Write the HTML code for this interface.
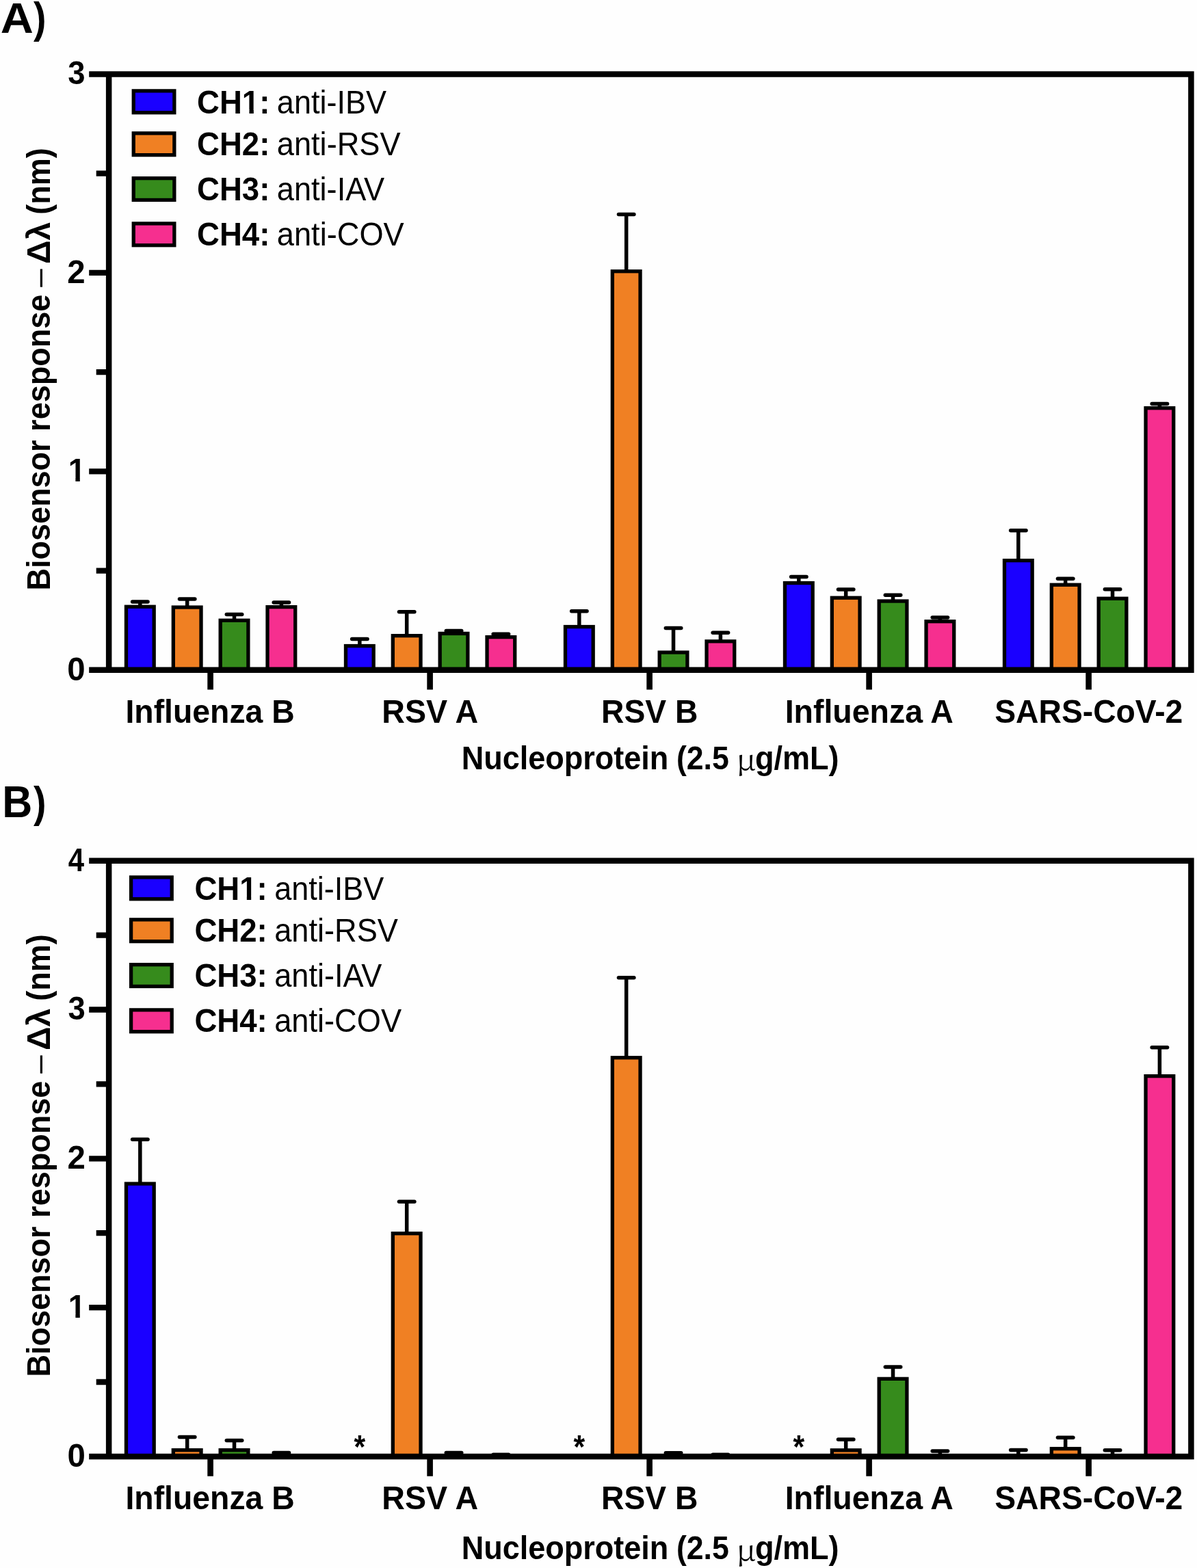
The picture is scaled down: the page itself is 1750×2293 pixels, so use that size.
<!DOCTYPE html>
<html><head><meta charset="utf-8"><title>Biosensor response</title>
<style>html,body{margin:0;padding:0;background:#fefefe;overflow:hidden}svg{display:block}</style></head>
<body><svg width="1750" height="2293" viewBox="0 0 1750 2293" font-family="'Liberation Sans', Arial, sans-serif" font-size="48.7" fill="#000">
<defs><clipPath id="c1_0"><path clip-rule="evenodd" d="M0 0H1750V2293H0ZM99.22 698.75H110.4V706.12H99.22ZM116.8 698.75H125.78V706.12H116.8Z"/></clipPath><clipPath id="c1_1"><path clip-rule="evenodd" d="M0 0H1750V2293H0ZM353.37 160.33H364.47V167.7H353.37ZM370.83 160.33H379.74V167.7H370.83Z"/></clipPath><clipPath id="c1_2"><path clip-rule="evenodd" d="M0 0H1750V2293H0ZM99.22 1921.53H110.4V1928.9H99.22ZM116.8 1921.53H125.78V1928.9H116.8Z"/></clipPath><clipPath id="c1_3"><path clip-rule="evenodd" d="M0 0H1750V2293H0ZM349.72 1310.33H360.82V1317.7H349.72ZM367.18 1310.33H376.09V1317.7H367.18Z"/></clipPath></defs>
<rect width="1750" height="2293" fill="#fefefe"/>
<rect x="184.48" y="887.25" width="40.7" height="92.5" fill="#1a00ff" stroke="#000" stroke-width="5.3"/>
<line x1="204.83" y1="887.25" x2="204.83" y2="880" stroke="#000" stroke-width="5.5"/>
<line x1="193.63" y1="880" x2="216.03" y2="880" stroke="#000" stroke-width="5.5" stroke-linecap="round"/>
<rect x="253.33" y="888.05" width="40.7" height="91.7" fill="#f08023" stroke="#000" stroke-width="5.3"/>
<line x1="273.68" y1="888.05" x2="273.68" y2="876" stroke="#000" stroke-width="5.5"/>
<line x1="262.48" y1="876" x2="284.88" y2="876" stroke="#000" stroke-width="5.5" stroke-linecap="round"/>
<rect x="322.18" y="907.25" width="40.7" height="72.5" fill="#368b1c" stroke="#000" stroke-width="5.3"/>
<line x1="342.53" y1="907.25" x2="342.53" y2="898.4" stroke="#000" stroke-width="5.5"/>
<line x1="331.33" y1="898.4" x2="353.73" y2="898.4" stroke="#000" stroke-width="5.5" stroke-linecap="round"/>
<rect x="391.02" y="887.65" width="40.7" height="92.1" fill="#f62f8f" stroke="#000" stroke-width="5.3"/>
<line x1="411.38" y1="887.65" x2="411.38" y2="881" stroke="#000" stroke-width="5.5"/>
<line x1="400.18" y1="881" x2="422.57" y2="881" stroke="#000" stroke-width="5.5" stroke-linecap="round"/>
<rect x="505.48" y="944.55" width="40.7" height="35.2" fill="#1a00ff" stroke="#000" stroke-width="5.3"/>
<line x1="525.83" y1="944.55" x2="525.83" y2="934.5" stroke="#000" stroke-width="5.5"/>
<line x1="514.62" y1="934.5" x2="537.03" y2="934.5" stroke="#000" stroke-width="5.5" stroke-linecap="round"/>
<rect x="574.33" y="929.65" width="40.7" height="50.1" fill="#f08023" stroke="#000" stroke-width="5.3"/>
<line x1="594.68" y1="929.65" x2="594.68" y2="894.7" stroke="#000" stroke-width="5.5"/>
<line x1="583.48" y1="894.7" x2="605.88" y2="894.7" stroke="#000" stroke-width="5.5" stroke-linecap="round"/>
<rect x="643.17" y="926.45" width="40.7" height="53.3" fill="#368b1c" stroke="#000" stroke-width="5.3"/>
<line x1="663.52" y1="926.45" x2="663.52" y2="922.6" stroke="#000" stroke-width="5.5"/>
<line x1="652.32" y1="922.6" x2="674.73" y2="922.6" stroke="#000" stroke-width="5.5" stroke-linecap="round"/>
<rect x="712.02" y="931.65" width="40.7" height="48.1" fill="#f62f8f" stroke="#000" stroke-width="5.3"/>
<line x1="732.38" y1="931.65" x2="732.38" y2="927.3" stroke="#000" stroke-width="5.5"/>
<line x1="721.17" y1="927.3" x2="743.58" y2="927.3" stroke="#000" stroke-width="5.5" stroke-linecap="round"/>
<rect x="826.48" y="916.55" width="40.7" height="63.2" fill="#1a00ff" stroke="#000" stroke-width="5.3"/>
<line x1="846.83" y1="916.55" x2="846.83" y2="893.8" stroke="#000" stroke-width="5.5"/>
<line x1="835.62" y1="893.8" x2="858.03" y2="893.8" stroke="#000" stroke-width="5.5" stroke-linecap="round"/>
<rect x="895.33" y="396.75" width="40.7" height="583" fill="#f08023" stroke="#000" stroke-width="5.3"/>
<line x1="915.68" y1="396.75" x2="915.68" y2="313.5" stroke="#000" stroke-width="5.5"/>
<line x1="904.48" y1="313.5" x2="926.88" y2="313.5" stroke="#000" stroke-width="5.5" stroke-linecap="round"/>
<rect x="964.17" y="954.05" width="40.7" height="25.7" fill="#368b1c" stroke="#000" stroke-width="5.3"/>
<line x1="984.52" y1="954.05" x2="984.52" y2="918.6" stroke="#000" stroke-width="5.5"/>
<line x1="973.32" y1="918.6" x2="995.73" y2="918.6" stroke="#000" stroke-width="5.5" stroke-linecap="round"/>
<rect x="1033.03" y="937.85" width="40.7" height="41.9" fill="#f62f8f" stroke="#000" stroke-width="5.3"/>
<line x1="1053.38" y1="937.85" x2="1053.38" y2="925.3" stroke="#000" stroke-width="5.5"/>
<line x1="1042.17" y1="925.3" x2="1064.58" y2="925.3" stroke="#000" stroke-width="5.5" stroke-linecap="round"/>
<rect x="1147.47" y="852.55" width="40.7" height="127.2" fill="#1a00ff" stroke="#000" stroke-width="5.3"/>
<line x1="1167.82" y1="852.55" x2="1167.82" y2="843.4" stroke="#000" stroke-width="5.5"/>
<line x1="1156.62" y1="843.4" x2="1179.02" y2="843.4" stroke="#000" stroke-width="5.5" stroke-linecap="round"/>
<rect x="1216.33" y="874.25" width="40.7" height="105.5" fill="#f08023" stroke="#000" stroke-width="5.3"/>
<line x1="1236.67" y1="874.25" x2="1236.67" y2="861.9" stroke="#000" stroke-width="5.5"/>
<line x1="1225.47" y1="861.9" x2="1247.88" y2="861.9" stroke="#000" stroke-width="5.5" stroke-linecap="round"/>
<rect x="1285.17" y="879.05" width="40.7" height="100.7" fill="#368b1c" stroke="#000" stroke-width="5.3"/>
<line x1="1305.52" y1="879.05" x2="1305.52" y2="870.3" stroke="#000" stroke-width="5.5"/>
<line x1="1294.32" y1="870.3" x2="1316.72" y2="870.3" stroke="#000" stroke-width="5.5" stroke-linecap="round"/>
<rect x="1354.03" y="908.75" width="40.7" height="71" fill="#f62f8f" stroke="#000" stroke-width="5.3"/>
<line x1="1374.38" y1="908.75" x2="1374.38" y2="903" stroke="#000" stroke-width="5.5"/>
<line x1="1363.17" y1="903" x2="1385.58" y2="903" stroke="#000" stroke-width="5.5" stroke-linecap="round"/>
<rect x="1468.47" y="819.65" width="40.7" height="160.1" fill="#1a00ff" stroke="#000" stroke-width="5.3"/>
<line x1="1488.82" y1="819.65" x2="1488.82" y2="775.7" stroke="#000" stroke-width="5.5"/>
<line x1="1477.62" y1="775.7" x2="1500.02" y2="775.7" stroke="#000" stroke-width="5.5" stroke-linecap="round"/>
<rect x="1537.33" y="855.25" width="40.7" height="124.5" fill="#f08023" stroke="#000" stroke-width="5.3"/>
<line x1="1557.67" y1="855.25" x2="1557.67" y2="846.2" stroke="#000" stroke-width="5.5"/>
<line x1="1546.47" y1="846.2" x2="1568.88" y2="846.2" stroke="#000" stroke-width="5.5" stroke-linecap="round"/>
<rect x="1606.17" y="875.25" width="40.7" height="104.5" fill="#368b1c" stroke="#000" stroke-width="5.3"/>
<line x1="1626.52" y1="875.25" x2="1626.52" y2="861.8" stroke="#000" stroke-width="5.5"/>
<line x1="1615.32" y1="861.8" x2="1637.72" y2="861.8" stroke="#000" stroke-width="5.5" stroke-linecap="round"/>
<rect x="1675.03" y="596.75" width="40.7" height="383" fill="#f62f8f" stroke="#000" stroke-width="5.3"/>
<line x1="1695.38" y1="596.75" x2="1695.38" y2="590.4" stroke="#000" stroke-width="5.5"/>
<line x1="1684.17" y1="590.4" x2="1706.58" y2="590.4" stroke="#000" stroke-width="5.5" stroke-linecap="round"/>
<path d="M159.15 104.21V984M1741.4 104.21V984M130.2 108.46H1745.65M130.2 979.75H1745.65" stroke="#000" stroke-width="8.5" fill="none"/>
<path d="M130.2 689.32H159.15M130.2 398.89H159.15M140.7 834.53H159.15M140.7 544.11H159.15M140.7 253.67H159.15" stroke="#000" stroke-width="8.3" fill="none"/>
<path d="M307.6 979.75V1008.6M628.6 979.75V1008.6M949.6 979.75V1008.6M1270.6 979.75V1008.6M1591.6 979.75V1008.6" stroke="#000" stroke-width="8.6" fill="none"/>
<rect x="195.25" y="132.9" width="59.6" height="31.8" fill="#1a00ff" stroke="#000" stroke-width="5.3"/>
<rect x="195.25" y="194.85" width="59.6" height="31.8" fill="#f08023" stroke="#000" stroke-width="5.3"/>
<rect x="195.25" y="260.65" width="59.6" height="31.8" fill="#368b1c" stroke="#000" stroke-width="5.3"/>
<rect x="195.25" y="326.9" width="59.6" height="31.8" fill="#f62f8f" stroke="#000" stroke-width="5.3"/>
<rect x="184.48" y="1731.05" width="40.7" height="398.85" fill="#1a00ff" stroke="#000" stroke-width="5.3"/>
<line x1="204.83" y1="1731.05" x2="204.83" y2="1666.2" stroke="#000" stroke-width="5.5"/>
<line x1="193.63" y1="1666.2" x2="216.03" y2="1666.2" stroke="#000" stroke-width="5.5" stroke-linecap="round"/>
<rect x="253.33" y="2120.55" width="40.7" height="9.35" fill="#f08023" stroke="#000" stroke-width="5.3"/>
<line x1="273.68" y1="2120.55" x2="273.68" y2="2101.6" stroke="#000" stroke-width="5.5"/>
<line x1="262.48" y1="2101.6" x2="284.88" y2="2101.6" stroke="#000" stroke-width="5.5" stroke-linecap="round"/>
<rect x="322.18" y="2120.55" width="40.7" height="9.35" fill="#368b1c" stroke="#000" stroke-width="5.3"/>
<line x1="342.53" y1="2120.55" x2="342.53" y2="2106.6" stroke="#000" stroke-width="5.5"/>
<line x1="331.33" y1="2106.6" x2="353.73" y2="2106.6" stroke="#000" stroke-width="5.5" stroke-linecap="round"/>
<line x1="411.38" y1="2129.9" x2="411.38" y2="2124.6" stroke="#000" stroke-width="5.5"/>
<line x1="400.18" y1="2124.6" x2="422.57" y2="2124.6" stroke="#000" stroke-width="5.5" stroke-linecap="round"/>
<rect x="574.33" y="1803.75" width="40.7" height="326.15" fill="#f08023" stroke="#000" stroke-width="5.3"/>
<line x1="594.68" y1="1803.75" x2="594.68" y2="1757.3" stroke="#000" stroke-width="5.5"/>
<line x1="583.48" y1="1757.3" x2="605.88" y2="1757.3" stroke="#000" stroke-width="5.5" stroke-linecap="round"/>
<line x1="663.52" y1="2129.9" x2="663.52" y2="2124.6" stroke="#000" stroke-width="5.5"/>
<line x1="652.32" y1="2124.6" x2="674.73" y2="2124.6" stroke="#000" stroke-width="5.5" stroke-linecap="round"/>
<line x1="732.38" y1="2129.9" x2="732.38" y2="2127.3" stroke="#000" stroke-width="5.5"/>
<line x1="721.17" y1="2127.3" x2="743.58" y2="2127.3" stroke="#000" stroke-width="5.5" stroke-linecap="round"/>
<rect x="895.33" y="1546.75" width="40.7" height="583.15" fill="#f08023" stroke="#000" stroke-width="5.3"/>
<line x1="915.68" y1="1546.75" x2="915.68" y2="1429.8" stroke="#000" stroke-width="5.5"/>
<line x1="904.48" y1="1429.8" x2="926.88" y2="1429.8" stroke="#000" stroke-width="5.5" stroke-linecap="round"/>
<line x1="984.52" y1="2129.9" x2="984.52" y2="2124.7" stroke="#000" stroke-width="5.5"/>
<line x1="973.32" y1="2124.7" x2="995.73" y2="2124.7" stroke="#000" stroke-width="5.5" stroke-linecap="round"/>
<line x1="1053.38" y1="2129.9" x2="1053.38" y2="2127.3" stroke="#000" stroke-width="5.5"/>
<line x1="1042.17" y1="2127.3" x2="1064.58" y2="2127.3" stroke="#000" stroke-width="5.5" stroke-linecap="round"/>
<rect x="1216.33" y="2120.75" width="40.7" height="9.15" fill="#f08023" stroke="#000" stroke-width="5.3"/>
<line x1="1236.67" y1="2120.75" x2="1236.67" y2="2105" stroke="#000" stroke-width="5.5"/>
<line x1="1225.47" y1="2105" x2="1247.88" y2="2105" stroke="#000" stroke-width="5.5" stroke-linecap="round"/>
<rect x="1285.17" y="2016.35" width="40.7" height="113.55" fill="#368b1c" stroke="#000" stroke-width="5.3"/>
<line x1="1305.52" y1="2016.35" x2="1305.52" y2="1998.9" stroke="#000" stroke-width="5.5"/>
<line x1="1294.32" y1="1998.9" x2="1316.72" y2="1998.9" stroke="#000" stroke-width="5.5" stroke-linecap="round"/>
<line x1="1374.38" y1="2129.9" x2="1374.38" y2="2122" stroke="#000" stroke-width="5.5"/>
<line x1="1363.17" y1="2122" x2="1385.58" y2="2122" stroke="#000" stroke-width="5.5" stroke-linecap="round"/>
<line x1="1488.82" y1="2129.9" x2="1488.82" y2="2120.5" stroke="#000" stroke-width="5.5"/>
<line x1="1477.62" y1="2120.5" x2="1500.02" y2="2120.5" stroke="#000" stroke-width="5.5" stroke-linecap="round"/>
<rect x="1537.33" y="2118.55" width="40.7" height="11.35" fill="#f08023" stroke="#000" stroke-width="5.3"/>
<line x1="1557.67" y1="2118.55" x2="1557.67" y2="2102.2" stroke="#000" stroke-width="5.5"/>
<line x1="1546.47" y1="2102.2" x2="1568.88" y2="2102.2" stroke="#000" stroke-width="5.5" stroke-linecap="round"/>
<line x1="1626.52" y1="2129.9" x2="1626.52" y2="2120.7" stroke="#000" stroke-width="5.5"/>
<line x1="1615.32" y1="2120.7" x2="1637.72" y2="2120.7" stroke="#000" stroke-width="5.5" stroke-linecap="round"/>
<rect x="1675.03" y="1573.65" width="40.7" height="556.25" fill="#f62f8f" stroke="#000" stroke-width="5.3"/>
<line x1="1695.38" y1="1573.65" x2="1695.38" y2="1531.8" stroke="#000" stroke-width="5.5"/>
<line x1="1684.17" y1="1531.8" x2="1706.58" y2="1531.8" stroke="#000" stroke-width="5.5" stroke-linecap="round"/>
<path d="M159.15 1254.45V2134.15M1741.4 1254.45V2134.15M130.2 1258.7H1745.65M130.2 2129.9H1745.65" stroke="#000" stroke-width="8.5" fill="none"/>
<path d="M130.2 1912.1H159.15M130.2 1694.3H159.15M130.2 1476.5H159.15M140.7 2021H159.15M140.7 1803.2H159.15M140.7 1585.4H159.15M140.7 1367.6H159.15" stroke="#000" stroke-width="8.3" fill="none"/>
<path d="M307.6 2129.9V2158.75M628.6 2129.9V2158.75M949.6 2129.9V2158.75M1270.6 2129.9V2158.75M1591.6 2129.9V2158.75" stroke="#000" stroke-width="8.6" fill="none"/>
<rect x="191.6" y="1282.9" width="59.6" height="31.8" fill="#1a00ff" stroke="#000" stroke-width="5.3"/>
<rect x="191.6" y="1344.85" width="59.6" height="31.8" fill="#f08023" stroke="#000" stroke-width="5.3"/>
<rect x="191.6" y="1410.65" width="59.6" height="31.8" fill="#368b1c" stroke="#000" stroke-width="5.3"/>
<rect x="191.6" y="1476.9" width="59.6" height="31.8" fill="#f62f8f" stroke="#000" stroke-width="5.3"/>
<text x="0.89" y="47.9" font-size="63.1" font-weight="bold" textLength="48.07" lengthAdjust="spacingAndGlyphs">A</text>
<text x="48.9" y="48.3" font-size="63.6" font-weight="bold" textLength="18.48" lengthAdjust="spacingAndGlyphs">)</text>
<text x="3.32" y="1194.8" font-size="64.5" font-weight="bold" textLength="44.03" lengthAdjust="spacingAndGlyphs">B</text>
<text x="48.9" y="1195.2" font-size="63.6" font-weight="bold" textLength="18.48" lengthAdjust="spacingAndGlyphs">)</text>
<text x="98.25" y="994.55" font-weight="bold" textLength="26.37" lengthAdjust="spacingAndGlyphs">0</text>
<text x="99.72" y="704.12" font-weight="bold" clip-path="url(#c1_0)" textLength="25.56" lengthAdjust="spacingAndGlyphs">1</text>
<text x="98.25" y="413.69" font-weight="bold" textLength="26.37" lengthAdjust="spacingAndGlyphs">2</text>
<text x="99.27" y="123.26" font-weight="bold" textLength="25.27" lengthAdjust="spacingAndGlyphs">3</text>
<text x="183.44" y="1057" font-weight="bold" textLength="247.37" lengthAdjust="spacingAndGlyphs">Influenza B</text>
<text x="558.33" y="1057" font-weight="bold" textLength="140.73" lengthAdjust="spacingAndGlyphs">RSV A</text>
<text x="879.05" y="1057" font-weight="bold" textLength="141.25" lengthAdjust="spacingAndGlyphs">RSV B</text>
<text x="1147.63" y="1057" font-weight="bold" textLength="246.3" lengthAdjust="spacingAndGlyphs">Influenza A</text>
<text x="1454.25" y="1057" font-weight="bold" textLength="275.05" lengthAdjust="spacingAndGlyphs">SARS-CoV-2</text>
<text x="674.73" y="1125" font-weight="bold" textLength="302.64" lengthAdjust="spacingAndGlyphs">Nucleoprotein</text>
<text x="988.97" y="1125" font-weight="bold" textLength="76.86" lengthAdjust="spacingAndGlyphs">(2.5</text>
<text x="1076.43" y="1126.2" font-size="41.7" textLength="28.53" lengthAdjust="spacingAndGlyphs"><tspan font-family="'Noto Serif CJK SC', 'Liberation Serif', serif">μ</tspan></text>
<text x="1103.95" y="1125" font-weight="bold" textLength="122.68" lengthAdjust="spacingAndGlyphs">g/mL)</text>
<text transform="translate(72.8 863.47) rotate(-90)" font-weight="bold" textLength="432.72" lengthAdjust="spacingAndGlyphs">Biosensor response</text>
<text transform="translate(72.8 419.8) rotate(-90)" textLength="26.38" lengthAdjust="spacingAndGlyphs">–</text>
<text transform="translate(72.8 386.07) rotate(-90)" font-weight="bold" textLength="61.24" lengthAdjust="spacingAndGlyphs">Δλ</text>
<text transform="translate(72.8 313.75) rotate(-90)" font-weight="bold" textLength="97.43" lengthAdjust="spacingAndGlyphs">(nm)</text>
<text x="288.03" y="165.7" font-weight="bold" clip-path="url(#c1_1)" textLength="106.4" lengthAdjust="spacingAndGlyphs">CH1:</text>
<text x="404.85" y="165.7" textLength="160.14" lengthAdjust="spacingAndGlyphs">anti-IBV</text>
<text x="288.03" y="227" font-weight="bold" textLength="106.4" lengthAdjust="spacingAndGlyphs">CH2:</text>
<text x="404.84" y="227" textLength="180.72" lengthAdjust="spacingAndGlyphs">anti-RSV</text>
<text x="288.03" y="293.4" font-weight="bold" textLength="106.4" lengthAdjust="spacingAndGlyphs">CH3:</text>
<text x="404.85" y="293.4" textLength="157.19" lengthAdjust="spacingAndGlyphs">anti-IAV</text>
<text x="288.03" y="359" font-weight="bold" textLength="106.4" lengthAdjust="spacingAndGlyphs">CH4:</text>
<text x="404.84" y="359" textLength="185.86" lengthAdjust="spacingAndGlyphs">anti-COV</text>
<text x="98.55" y="2144.7" font-weight="bold" textLength="26.37" lengthAdjust="spacingAndGlyphs">0</text>
<text x="99.72" y="1926.9" font-weight="bold" clip-path="url(#c1_2)" textLength="25.56" lengthAdjust="spacingAndGlyphs">1</text>
<text x="98.55" y="1709.1" font-weight="bold" textLength="26.37" lengthAdjust="spacingAndGlyphs">2</text>
<text x="99.57" y="1491.3" font-weight="bold" textLength="25.27" lengthAdjust="spacingAndGlyphs">3</text>
<text x="99.64" y="1273.5" font-weight="bold" textLength="23.33" lengthAdjust="spacingAndGlyphs">4</text>
<text x="183.44" y="2207" font-weight="bold" textLength="247.37" lengthAdjust="spacingAndGlyphs">Influenza B</text>
<text x="558.33" y="2207" font-weight="bold" textLength="140.73" lengthAdjust="spacingAndGlyphs">RSV A</text>
<text x="879.05" y="2207" font-weight="bold" textLength="141.25" lengthAdjust="spacingAndGlyphs">RSV B</text>
<text x="1147.63" y="2207" font-weight="bold" textLength="246.3" lengthAdjust="spacingAndGlyphs">Influenza A</text>
<text x="1454.25" y="2207" font-weight="bold" textLength="275.05" lengthAdjust="spacingAndGlyphs">SARS-CoV-2</text>
<text x="674.73" y="2280.4" font-weight="bold" textLength="302.64" lengthAdjust="spacingAndGlyphs">Nucleoprotein</text>
<text x="988.97" y="2280.4" font-weight="bold" textLength="76.86" lengthAdjust="spacingAndGlyphs">(2.5</text>
<text x="1076.43" y="2281.6" font-size="41.7" textLength="28.53" lengthAdjust="spacingAndGlyphs"><tspan font-family="'Noto Serif CJK SC', 'Liberation Serif', serif">μ</tspan></text>
<text x="1103.95" y="2280.4" font-weight="bold" textLength="122.68" lengthAdjust="spacingAndGlyphs">g/mL)</text>
<text transform="translate(72.8 2013.47) rotate(-90)" font-weight="bold" textLength="432.72" lengthAdjust="spacingAndGlyphs">Biosensor response</text>
<text transform="translate(72.8 1569.8) rotate(-90)" textLength="26.38" lengthAdjust="spacingAndGlyphs">–</text>
<text transform="translate(72.8 1536.07) rotate(-90)" font-weight="bold" textLength="61.24" lengthAdjust="spacingAndGlyphs">Δλ</text>
<text transform="translate(72.8 1463.75) rotate(-90)" font-weight="bold" textLength="97.43" lengthAdjust="spacingAndGlyphs">(nm)</text>
<text x="284.38" y="1315.7" font-weight="bold" clip-path="url(#c1_3)" textLength="106.4" lengthAdjust="spacingAndGlyphs">CH1:</text>
<text x="401.2" y="1315.7" textLength="160.14" lengthAdjust="spacingAndGlyphs">anti-IBV</text>
<text x="284.38" y="1377" font-weight="bold" textLength="106.4" lengthAdjust="spacingAndGlyphs">CH2:</text>
<text x="401.19" y="1377" textLength="180.72" lengthAdjust="spacingAndGlyphs">anti-RSV</text>
<text x="284.38" y="1443.4" font-weight="bold" textLength="106.4" lengthAdjust="spacingAndGlyphs">CH3:</text>
<text x="401.2" y="1443.4" textLength="157.19" lengthAdjust="spacingAndGlyphs">anti-IAV</text>
<text x="284.38" y="1509" font-weight="bold" textLength="106.4" lengthAdjust="spacingAndGlyphs">CH4:</text>
<text x="401.19" y="1509" textLength="185.86" lengthAdjust="spacingAndGlyphs">anti-COV</text>
<text x="517.48" y="2132.1" font-weight="bold" textLength="16.66" lengthAdjust="spacingAndGlyphs">*</text>
<text x="838.48" y="2132.1" font-weight="bold" textLength="16.66" lengthAdjust="spacingAndGlyphs">*</text>
<text x="1159.47" y="2132.1" font-weight="bold" textLength="16.66" lengthAdjust="spacingAndGlyphs">*</text>
</svg></body></html>
